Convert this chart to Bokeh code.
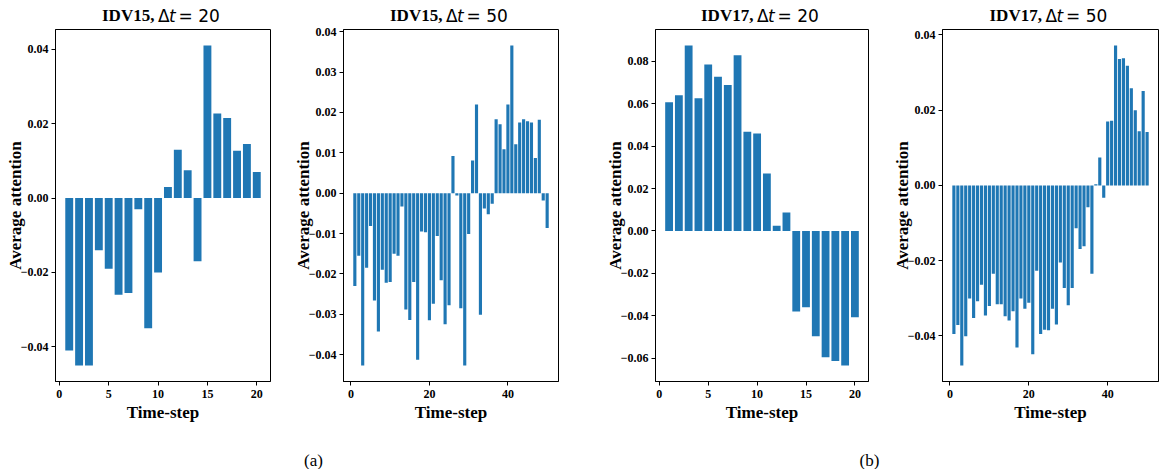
import numpy as np
from bokeh.plotting import figure
from bokeh.layouts import row, column
from bokeh.models import Range1d, FixedTicker, CustomJSTickFormatter, Label
from bokeh.embed import file_html
from bokeh.resources import INLINE

# Average attention per time-step for each fault / window length
idv15_dt20 = [-0.041, -0.045, -0.045, -0.014, -0.019, -0.026, -0.0255, -0.003, -0.035, -0.020,
              0.003, 0.013, 0.0075, -0.017, 0.041, 0.0227, 0.0215, 0.0127, 0.0145, 0.007]

idv15_dt50 = [-0.023, -0.0155, -0.0427, -0.0185, -0.0081, -0.0266, -0.0343, -0.019, -0.0222, -0.022,
              -0.015, -0.0155, -0.0033, -0.0288, -0.0314, -0.022, -0.0413, -0.0095, -0.0097, -0.0315,
              -0.0274, -0.0106, -0.0216, -0.0325, -0.0278, 0.0092, -0.0006, -0.0285, -0.0427, -0.0101,
              0.0081, 0.0220, -0.0301, -0.0038, -0.0052, -0.0026, 0.0183, 0.0171, 0.0109, 0.0220,
              0.0366, 0.0121, 0.0175, 0.0183, 0.0178, 0.0175, 0.0087, 0.0182, -0.0018, -0.0086]

idv17_dt20 = [0.0606, 0.0639, 0.0874, 0.0626, 0.0784, 0.0727, 0.0688, 0.0828, 0.0467, 0.0459,
              0.0271, 0.0024, 0.0087, -0.0379, -0.0360, -0.0496, -0.0595, -0.0613, -0.0634, -0.0407]

idv17_dt50 = [-0.0395, -0.0371, -0.0479, -0.0401, -0.0301, -0.0353, -0.0308, -0.0264, -0.0346, -0.0321,
              -0.0235, -0.0316, -0.0316, -0.0348, -0.0359, -0.0335, -0.0431, -0.0301, -0.0328, -0.0312,
              -0.0449, -0.0227, -0.0395, -0.0384, -0.0385, -0.0328, -0.0370, -0.0205, -0.0273, -0.0319,
              -0.0273, -0.0114, -0.0169, -0.0162, -0.0058, -0.0235, 0.0003, 0.0074, -0.0033, 0.0170,
              0.0172, 0.0372, 0.0336, 0.0338, 0.0318, 0.0258, 0.0200, 0.0144, 0.0251, 0.0142]

faults = ["IDV15", "IDV15", "IDV17", "IDV17"]
windows = [20, 50, 20, 50]
xticks_20 = [0, 5, 10, 15, 20]
xticks_50 = [0, 20, 40]
yticks_15_20 = [-0.04, -0.02, 0.0, 0.02, 0.04]
yticks_15_50 = [-0.04, -0.03, -0.02, -0.01, 0.0, 0.01, 0.02, 0.03, 0.04]
yticks_17_20 = [-0.06, -0.04, -0.02, 0.0, 0.02, 0.04, 0.06, 0.08]
yticks_17_50 = [-0.04, -0.02, 0.0, 0.02, 0.04]

BAR_COLOR = "#1f77b4"
SERIF = "Liberation Serif"
MATH = "DejaVu Sans"

TOTAL_W = 1161
TITLE_H = 24
TOP_PAD = 5
FRAME_H = 352
BOTTOM_PAD = 44
CAPTION_H = 469 - TITLE_H - TOP_PAD - FRAME_H - BOTTOM_PAD

# horizontal layout: canvas boundaries of the four panels and their plot frames
fig_edges = [0, 283, 590, 880, TOTAL_W]
frame_left = [55, 343, 655, 942]
frame_width = [215, 215, 213, 216]


def attention_panel(values, xticks, yticks, i):
    n = len(values)
    steps = np.arange(1, n + 1)

    # axis limits with a 5% margin around the bars (bars span +-0.4 around each step)
    lo, hi = min(0.0, min(values)), max(0.0, max(values))
    ypad = 0.05 * (hi - lo)
    x0, x1 = 0.6, n + 0.4
    xpad = 0.05 * (x1 - x0)

    left = frame_left[i] - fig_edges[i]
    right = fig_edges[i + 1] - frame_left[i] - frame_width[i]

    p = figure(title=None, frame_width=frame_width[i], frame_height=FRAME_H,
               min_border_left=left, min_border_right=right,
               min_border_top=TOP_PAD, min_border_bottom=BOTTOM_PAD,
               x_range=Range1d(x0 - xpad, x1 + xpad),
               y_range=Range1d(lo - ypad, hi + ypad),
               output_backend="svg", toolbar_location=None)

    p.vbar(x=steps, top=values, bottom=0, width=0.8,
           fill_color=BAR_COLOR, line_color=None)

    p.xgrid.visible = False
    p.ygrid.visible = False
    p.outline_line_color = "black"
    p.outline_line_width = 1
    p.background_fill_color = "white"
    p.border_fill_color = "white"

    p.xaxis.ticker = FixedTicker(ticks=xticks)
    p.yaxis.ticker = FixedTicker(ticks=yticks)
    p.yaxis.formatter = CustomJSTickFormatter(
        code="return tick.toFixed(2).replace('-', '\u2212');")

    for ax in (p.xaxis[0], p.yaxis[0]):
        ax.axis_line_color = "black"
        ax.major_tick_line_color = "black"
        ax.major_tick_in = 0
        ax.major_tick_out = 4
        ax.minor_tick_line_color = None
        ax.major_label_text_font = SERIF
        ax.major_label_text_font_style = "bold"
        ax.major_label_text_font_size = "12px"
        ax.major_label_text_color = "black"
        ax.axis_label_text_font = SERIF
        ax.axis_label_text_font_style = "bold"
        ax.axis_label_text_font_size = "17px"
        ax.axis_label_text_color = "black"

    p.xaxis.axis_label = "Time-step"
    p.xaxis.major_label_standoff = 4
    p.xaxis.axis_label_standoff = 2
    p.yaxis.axis_label = "Average attention"
    p.yaxis.major_label_standoff = 3
    p.yaxis.axis_label_standoff = -7
    return p


panels = [
    attention_panel(idv15_dt20, xticks_20, yticks_15_20, 0),
    attention_panel(idv15_dt50, xticks_50, yticks_15_50, 1),
    attention_panel(idv17_dt20, xticks_20, yticks_17_20, 2),
    attention_panel(idv17_dt50, xticks_50, yticks_17_50, 3),
]


def strip(height):
    # plain text band: no title, axes, grid or borders, so its frame is the whole canvas
    s = figure(title=None, width=TOTAL_W, height=height, x_range=Range1d(0, TOTAL_W),
               y_range=Range1d(0, height), min_border=0,
               x_axis_location=None, y_axis_location=None,
               output_backend="svg", toolbar_location=None)
    s.grid.visible = False
    s.outline_line_color = None
    s.border_fill_color = "white"
    return s


# panel titles: bold fault name followed by the math-style window length
titles = strip(TITLE_H)
for i in range(4):
    cx = frame_left[i] + frame_width[i] / 2
    pieces = [
        (f"{faults[i]},", -61, SERIF, "bold"),
        ("\u0394", -5, MATH, "normal"),
        ("t", 6, MATH, "italic"),
        (f"= {windows[i]}", 15.5, MATH, "normal"),
    ]
    for text, dx, font, style in pieces:
        titles.add_layout(Label(x=cx + dx, y=TITLE_H - 15, text=text, text_font=font,
                                text_font_style=style, text_font_size="17px",
                                text_color="black", text_align="left",
                                text_baseline="middle"))

# sub-figure captions
captions = strip(CAPTION_H)
for text, x in (("(a)", 313), ("(b)", 869)):
    captions.add_layout(Label(x=x, y=9, text=text, text_font=SERIF, text_font_size="17px",
                              text_color="black", text_align="center", text_baseline="middle"))

layout = column(titles, row(*panels, spacing=0), captions, spacing=0)

open("out.html", "w").write(file_html(layout, INLINE))
